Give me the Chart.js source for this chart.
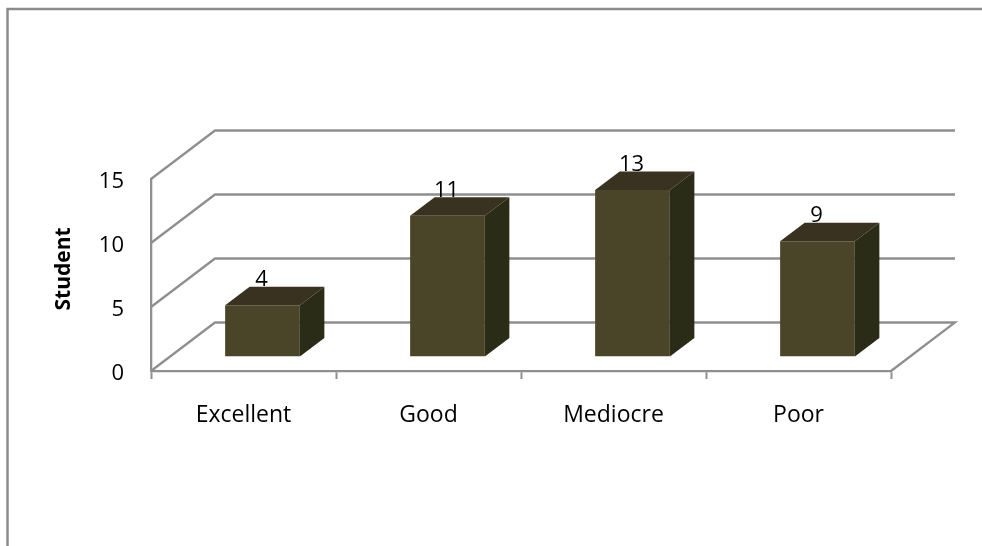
<!DOCTYPE html>
<html>
<head>
<meta charset="utf-8">
<style>html,body{margin:0;padding:0;background:#fff}canvas{display:block}</style>
<script src="https://cdn.jsdelivr.net/npm/chart.js@4"></script>
</head>
<body>
<div style="width:982px;height:546px;position:relative"><canvas id="c"></canvas></div>
<script>
const categories = ["Excellent", "Good", "Mediocre", "Poor"];
const students = [4, 11, 13, 9];
const yTicks = [0, 5, 10, 15];
const axisTitle = "Student";

const FONT = "'Open Sans'";
const LINE = "#8f8f8f";
const FRONT = "#4a4428", TOP = "#3a3220", SIDE = "#2a2c18";
const WALL_DX = 64, WALL_DY = 48.5;      // wall depth
const BAR_DX = 19, BAR_DY = 14.5;        // bar set-in from front edge
const BOX_DX = 24.5, BOX_DY = 18.5;      // bar depth

const frame = {
  id: "frame",
  beforeDraw(chart) {
    const c = chart.ctx;
    c.save();
    c.fillStyle = "#fff";
    c.fillRect(0, 0, chart.width, chart.height);
    c.strokeStyle = "#8c8c8c";
    c.lineWidth = 2.5;
    c.beginPath();
    c.moveTo(7.5, 546);
    c.lineTo(7.5, 9);
    c.lineTo(982, 9);
    c.stroke();
    c.restore();
  }
};

const threeD = {
  id: "threeD",
  beforeDatasetsDraw(chart) {
    const c = chart.ctx, y = chart.scales.y, a = chart.chartArea;
    c.save();
    c.strokeStyle = LINE;
    c.lineWidth = 2.3;
    yTicks.forEach(v => {
      const py = y.getPixelForValue(v);
      c.beginPath();
      c.moveTo(a.left, py);
      c.lineTo(a.left + WALL_DX, py - WALL_DY);
      c.lineTo(a.right + WALL_DX, py - WALL_DY);
      if (v === 0) c.lineTo(a.right, py);
      c.stroke();
    });
    c.restore();
    c.save();
    c.fillStyle = "#000";
    c.font = "22px " + FONT;
    c.textAlign = "right";
    c.textBaseline = "alphabetic";
    yTicks.forEach(v => c.fillText(String(v), a.left - 27, y.getPixelForValue(v) + 9));
    c.save();
    c.translate(69.5, (a.top + a.bottom) / 2 - 6);
    c.rotate(-Math.PI / 2);
    c.textAlign = "center";
    c.font = "bold 21px " + FONT;
    c.fillText(axisTitle, 0, 0);
    c.restore();
    c.restore();
    c.save();
    c.translate(BAR_DX, -BAR_DY);
    chart.getDatasetMeta(0).data.forEach(b => {
      const l = b.x - b.width / 2, r = b.x + b.width / 2;
      c.fillStyle = TOP;
      c.beginPath();
      c.moveTo(l, b.y);
      c.lineTo(l + BOX_DX, b.y - BOX_DY);
      c.lineTo(r + BOX_DX, b.y - BOX_DY);
      c.lineTo(r, b.y);
      c.closePath();
      c.fill();
      c.fillStyle = SIDE;
      c.beginPath();
      c.moveTo(r, b.y);
      c.lineTo(r + BOX_DX, b.y - BOX_DY);
      c.lineTo(r + BOX_DX, b.base - BOX_DY);
      c.lineTo(r, b.base);
      c.closePath();
      c.fill();
    });
  },
  afterDatasetsDraw(chart) {
    const c = chart.ctx;
    c.restore();
    c.save();
    c.fillStyle = "#000";
    c.font = "22px " + FONT;
    c.textAlign = "center";
    c.textBaseline = "alphabetic";
    chart.getDatasetMeta(0).data.forEach((b, i) => {
      c.fillText(String(students[i]), b.x + BAR_DX - 1, b.y - BAR_DY - BOX_DY - 0.7);
    });
    c.restore();
  }
};

new Chart(document.getElementById("c"), {
  type: "bar",
  data: {
    labels: categories,
    datasets: [{ data: students, backgroundColor: FRONT, barPercentage: 0.404, categoryPercentage: 1 }]
  },
  options: {
    responsive: true,
    maintainAspectRatio: false,
    animation: false,
    events: [],
    layout: { padding: { top: 179, right: 91, left: 0, bottom: 0 } },
    plugins: { legend: { display: false }, tooltip: { enabled: false } },
    scales: {
      x: {
        afterFit(s) { s.height = 175; },
        grid: { display: true, drawOnChartArea: false, drawTicks: true, tickLength: 8, tickWidth: 2, tickColor: LINE, color: LINE },
        border: { display: true, color: LINE, width: 2.3 },
        ticks: { color: "#000", padding: 23, maxRotation: 0, font: { family: FONT, size: 23 } }
      },
      y: {
        min: 0, max: 15,
        afterBuildTicks(s) { s.ticks = yTicks.map(v => ({ value: v })); },
        afterFit(s) { s.width = 151; },
        grid: { display: false, drawTicks: false },
        border: { display: true, color: LINE, width: 2.3 },
        ticks: { display: false }
      }
    }
  },
  plugins: [frame, threeD]
});
</script>
</body>
</html>
